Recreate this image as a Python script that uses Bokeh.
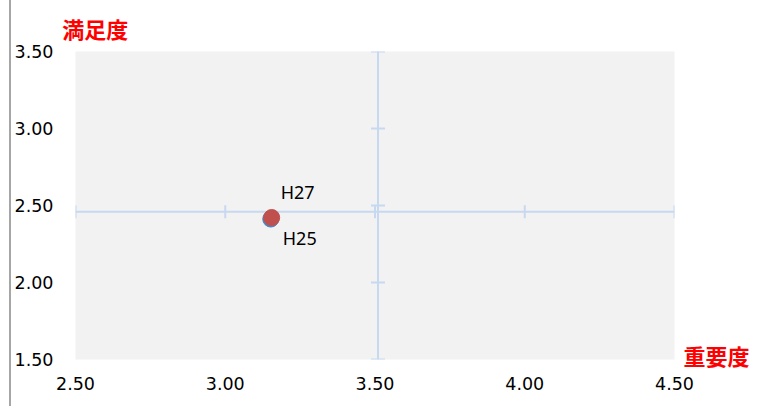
import math
from bokeh.plotting import figure
from bokeh.models import (FixedTicker, NumeralTickFormatter, Range1d,
                          ColumnDataSource, LinearAxis)
from bokeh.core.properties import value
from bokeh.embed import file_html
from bokeh.resources import INLINE

# ---- data ----
series_names = ["H25", "H27"]
importance = [3.152, 3.155]      # 重要度 (x)
satisfaction = [2.412, 2.422]    # 満足度 (y)
point_colors = ["#4f81bd", "#c0504d"]

x_ticks = [2.5, 3.0, 3.5, 4.0, 4.5]
y_ticks = [1.5, 2.0, 2.5, 3.0, 3.5]
x_cross = 3.51   # vertical axis crosses at mean importance
y_cross = 2.46   # horizontal axis crosses at mean satisfaction

x_title = "重要度"
y_title = "満足度"

# ---- layout constants ----
Y_TITLE_AT_X = 2.566
X_TITLE_AT_Y = 1.526
AXIS_BLUE = "#c6d9f1"

p = figure(width=755, height=406, output_backend="svg", toolbar_location=None,
           x_range=Range1d(x_ticks[0], x_ticks[-1]),
           y_range=Range1d(y_ticks[0], y_ticks[-1]),
           min_border_left=63, min_border_right=92,
           min_border_top=51, min_border_bottom=47)
p.styles = {"margin-left": "9px", "border-left": "2px solid #a6a6a6"}
p.background_fill_color = "#f2f2f2"
p.border_fill_color = "white"
p.outline_line_color = None
p.xgrid.visible = False
p.ygrid.visible = False


def strip(ax):
    ax.axis_line_color = None
    ax.major_tick_line_color = None
    ax.minor_tick_line_color = None
    ax.major_tick_in = 0
    ax.major_tick_out = 0
    ax.minor_tick_in = 0
    ax.minor_tick_out = 0


for ax in (p.xaxis[0], p.yaxis[0]):
    strip(ax)
    ax.major_label_text_font = "DejaVu Sans"
    ax.major_label_text_font_size = "17.5px"
    ax.major_label_text_color = "#000000"
    ax.formatter = NumeralTickFormatter(format="0.00")

p.xaxis.ticker = FixedTicker(ticks=x_ticks)
p.yaxis.ticker = FixedTicker(ticks=y_ticks)
p.xaxis.major_label_standoff = 17
p.yaxis.major_label_standoff = 22

# axis titles drawn as single-label extra axes
top_ax = LinearAxis(ticker=FixedTicker(ticks=[Y_TITLE_AT_X]),
                    major_label_overrides={Y_TITLE_AT_X: y_title})
right_ax = LinearAxis(ticker=FixedTicker(ticks=[X_TITLE_AT_Y]),
                      major_label_overrides={X_TITLE_AT_Y: x_title})
for ax in (top_ax, right_ax):
    strip(ax)
    ax.major_label_text_font = "Noto Sans CJK JP"
    ax.major_label_text_font_style = "bold"
    ax.major_label_text_font_size = "22px"
    ax.major_label_text_color = "#ff0000"
top_ax.major_label_standoff = 8
right_ax.major_label_standoff = 9
p.add_layout(top_ax, "above")
p.add_layout(right_ax, "right")

# crossing axes
p.line(x=[x_ticks[0], x_ticks[-1]], y=[y_cross, y_cross], line_color=AXIS_BLUE, line_width=2)
p.line(x=[x_cross, x_cross], y=[y_ticks[0], y_ticks[-1]], line_color=AXIS_BLUE, line_width=2)
p.scatter(x=x_ticks, y=[y_cross] * len(x_ticks), marker="dash", angle=math.pi / 2,
          size=13, line_color=AXIS_BLUE, line_width=2)
p.scatter(x=[x_cross] * len(y_ticks), y=y_ticks, marker="dash",
          size=14, line_color=AXIS_BLUE, line_width=2)

# points
src = ColumnDataSource(dict(x=importance, y=satisfaction, c=point_colors, name=series_names))
p.scatter(x="x", y="y", size=16, fill_color="c", line_color="c", source=src)

# data labels
p.text(x=[importance[1]], y=[satisfaction[1]], text=[series_names[1]],
       x_offset=9, y_offset=-26, text_align="left", text_baseline="alphabetic",
       text_font=value("Noto Sans"), text_font_size="18px", text_color="#000000")
p.text(x=[importance[0]], y=[satisfaction[0]], text=[series_names[0]],
       x_offset=12, y_offset=19, text_align="left", text_baseline="alphabetic",
       text_font=value("Noto Sans"), text_font_size="18px", text_color="#000000")

open("out.html", "w").write(file_html(p, INLINE))
